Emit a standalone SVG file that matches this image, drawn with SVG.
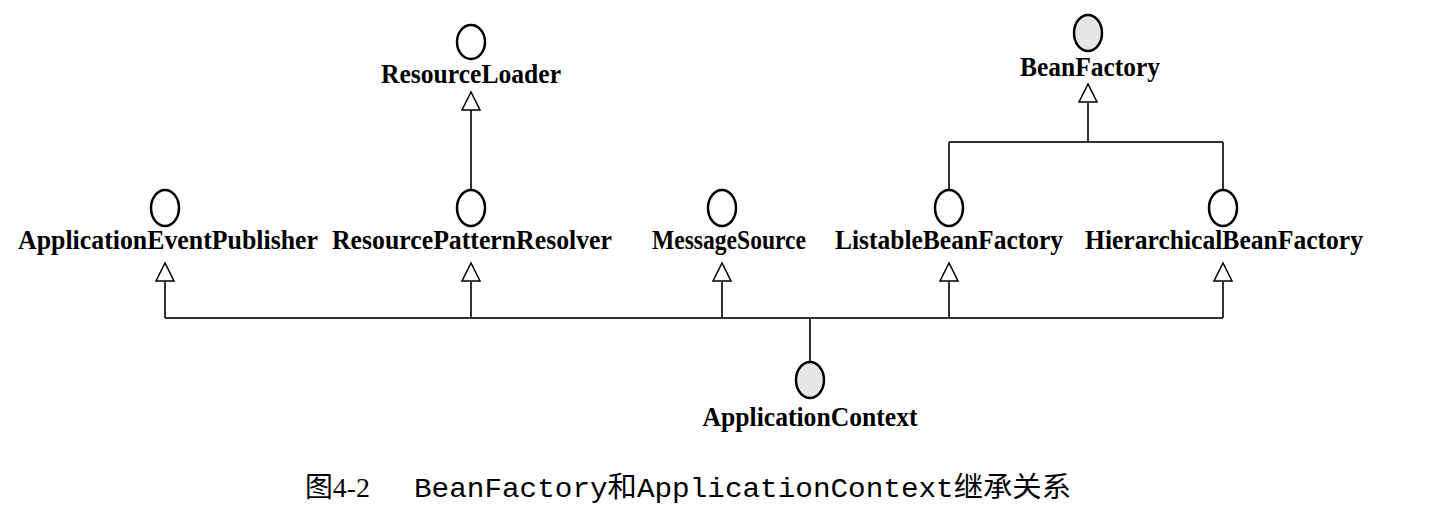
<svg xmlns="http://www.w3.org/2000/svg" width="1444" height="530" viewBox="0 0 1444 530">
<style>
.c{fill:#fff;stroke:#000;stroke-width:2.5}
.g{fill:#e6e6e6;stroke:#000;stroke-width:2.5}
.t{font-family:"Liberation Serif",serif;font-weight:bold;font-size:27px;text-anchor:middle}
.l{stroke:#333;stroke-width:2;fill:none}
.a{fill:#fff;stroke:#000;stroke-width:1.5}
</style>
<rect width="1444" height="530" fill="#fff"/>
<g id="connectors">
<path class="l" d="M471 110V190M1088 103V142M949 142H1223M949 142V190M1223 142V190M165 282V318M471 282V318M722 282V318M949 282V318M1223 282V318M165 318H1223M810 318V362"/>
<path class="a" d="M471 92L462 110H480Z"/>
<path class="a" d="M1088 84L1079 102H1097Z"/>
<path class="a" d="M165 263L156 281H174Z"/>
<path class="a" d="M471 263L462 281H480Z"/>
<path class="a" d="M722 263L713 281H731Z"/>
<path class="a" d="M949 263L940 281H958Z"/>
<path class="a" d="M1223 263L1214 281H1232Z"/>
</g>
<g id="ResourceLoader"><ellipse class="c" cx="471" cy="42" rx="14" ry="17"/><text class="t" x="471" y="83" textLength="180" lengthAdjust="spacingAndGlyphs">ResourceLoader</text></g>
<g id="BeanFactory"><ellipse class="g" cx="1088" cy="33" rx="14" ry="18"/><text class="t" x="1090" y="76" textLength="140" lengthAdjust="spacingAndGlyphs">BeanFactory</text></g>
<g id="ApplicationEventPublisher"><ellipse class="c" cx="165" cy="208" rx="14" ry="18"/><text class="t" x="168" y="249" textLength="300" lengthAdjust="spacingAndGlyphs">ApplicationEventPublisher</text></g>
<g id="ResourcePatternResolver"><ellipse class="c" cx="471" cy="208" rx="14" ry="18"/><text class="t" x="472" y="249" textLength="280" lengthAdjust="spacingAndGlyphs">ResourcePatternResolver</text></g>
<g id="MessageSource"><ellipse class="c" cx="722" cy="208" rx="14" ry="18"/><text class="t" x="729" y="249" textLength="154" lengthAdjust="spacingAndGlyphs">MessageSource</text></g>
<g id="ListableBeanFactory"><ellipse class="c" cx="949" cy="208" rx="14" ry="18"/><text class="t" x="949" y="249" textLength="228" lengthAdjust="spacingAndGlyphs">ListableBeanFactory</text></g>
<g id="HierarchicalBeanFactory"><ellipse class="c" cx="1223" cy="208" rx="14" ry="18"/><text class="t" x="1224" y="249" textLength="278" lengthAdjust="spacingAndGlyphs">HierarchicalBeanFactory</text></g>
<g id="ApplicationContext"><ellipse class="g" cx="810" cy="380" rx="14" ry="18"/><text class="t" x="810" y="426" textLength="215" lengthAdjust="spacingAndGlyphs">ApplicationContext</text></g>
<text x="305" y="497" font-family="'Liberation Serif','Noto Sans CJK SC',serif" font-size="28" textLength="65" lengthAdjust="spacingAndGlyphs">图4-2</text>
<text x="414" y="497" font-family="'Liberation Mono','Noto Sans CJK SC',monospace" font-size="28" textLength="657" lengthAdjust="spacingAndGlyphs">BeanFactory和ApplicationContext继承关系</text>
</svg>
